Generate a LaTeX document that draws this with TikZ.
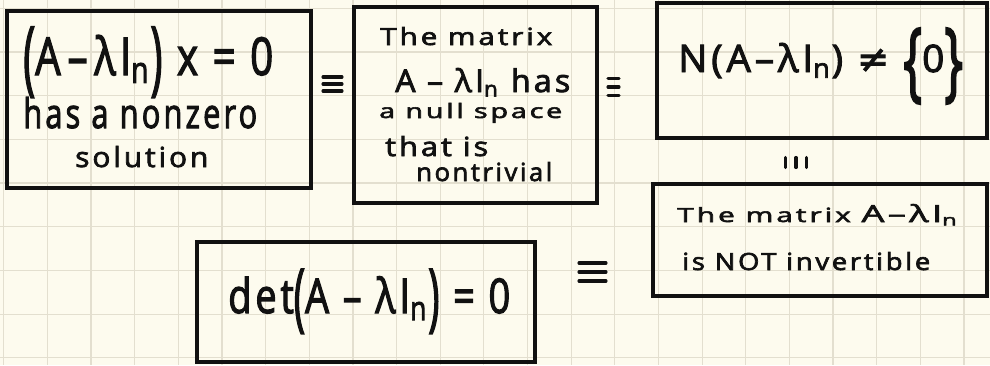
\documentclass[tikz,border=0pt]{standalone}
\usepackage{fontspec}
\setmainfont{Open Sans}
\newfontfamily\hand{Open Sans}[LetterSpace=10, FakeBold=2.6]
\newfontfamily\symfont{DejaVu Sans}[FakeBold=2]
\usepackage{graphicx}
\newlength\unitpx \setlength\unitpx{0.75pt}
% width and height (above baseline) in reference pixels
\newcommand\fitwh[3]{\resizebox{#1\unitpx}{#2\unitpx}{#3}}
\newcommand\tallp[1]{\raisebox{-0.35ex}{\scalebox{1}[1.55]{#1}}}
\newcommand\tallb[1]{\raisebox{-0.9ex}{\scalebox{1.3}[2.3]{#1}}}
\newcommand\sub[1]{\textsubscript{#1}}
\definecolor{paper}{HTML}{FDFBEE}
\definecolor{gridc}{HTML}{E3DFCF}
\definecolor{ink}{HTML}{111111}
\begin{document}
\begin{tikzpicture}[x=0.75pt,y=-0.75pt,
  box/.style={draw=ink, line width=2.4pt, rectangle, inner sep=0pt},
  txt/.style={anchor=base west, inner sep=0pt, text=ink, font=\hand},
  eqbar/.style={draw=ink, line width=2.3pt, line cap=round},
  pics/eqsign/.style 2 args={code={
    \draw[eqbar] (-#1,-#2) -- (#1,-#2);
    \draw[eqbar] (-#1,0) -- (#1,0);
    \draw[eqbar] (-#1,#2) -- (#1,#2);}},
  gridline/.style={draw=gridc, line width=0.9pt}]
\path[use as bounding box, fill=paper] (0,0) rectangle (990,365);
\foreach \k in {0,...,22} \draw[gridline] ({3.7+43.65*\k},0) -- ({3.7+43.65*\k},365);
\foreach \k in {0,...,8} \draw[gridline] (0,{8.2+43.7*\k}) -- (990,{8.2+43.7*\k});

% boxes
\node[box, minimum width=304*0.75pt, minimum height=177*0.75pt] (b1) at (159,99.5) {};
\node[box, minimum width=243*0.75pt, minimum height=196*0.75pt] (b2) at (475.5,105) {};
\node[box, minimum width=330*0.75pt, minimum height=135*0.75pt] (b3) at (822,70.5) {};
\node[box, minimum width=334*0.75pt, minimum height=112*0.75pt] (b4) at (820,240) {};
\node[box, minimum width=338*0.75pt, minimum height=120*0.75pt] (b5) at (366,302) {};

% box 1 text
\node[txt] (t1a) at (23,75) {\fitwh{250}{48}{\tallp{(}A\,–\,λI\sub{n}\tallp{)} x = 0}};
\node[txt] (t1b) at (23,128) {\fitwh{234}{31}{has a nonzero}};
\node[txt] (t1c) at (75,167) {\fitwh{133}{21}{solution}};

% box 2 text
\node[txt] (t2a) at (380,45) {\fitwh{172}{18}{The matrix}};
\node[txt] (t2b) at (395,92) {\fitwh{175}{24}{A – λI\sub{n} has}};
\node[txt] (t2c) at (379,118) {\fitwh{183}{15}{a null space}};
\node[txt] (t2d) at (385,156) {\fitwh{103}{20}{that is}};
\node[txt] (t2e) at (416,181) {\fitwh{136}{19}{nontrivial}};

% box 3 text
\node[txt] (t3) at (678,72) {\fitwh{285}{44}{N(A–λI\sub{n}) {\symfont ≠} \tallb{\{}0\tallb{\}}}};

% box 4 text
\node[txt] (t4a) at (677,222) {\fitwh{281}{18}{The matrix {\large A–λI\sub{n}}}};
\node[txt] (t4b) at (682,270) {\fitwh{248}{18}{is NOT invertible}};

% box 5 text
\node[txt] (t5) at (228,313) {\fitwh{282}{44}{det\tallp{(}A – λI\sub{n}\tallp{)} = 0}};

% equivalence signs
\pic (e1) at (332.5,84) {eqsign={9.5}{7}};
\pic (e2) at (613.5,87) {eqsign={5.5}{8.5}};
\pic[rotate=90] (e3) at (796,162.5) {eqsign={5}{10.5}};
\pic (e4) at (592.5,272) {eqsign={13.5}{9}};
\end{tikzpicture}
\end{document}
